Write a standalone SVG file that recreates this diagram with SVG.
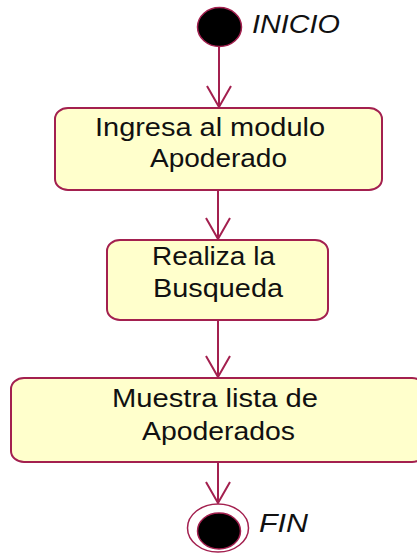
<svg xmlns="http://www.w3.org/2000/svg" width="417" height="556" viewBox="0 0 417 556">
<defs>
<style>
.box{fill:#FFFFCC;stroke:#A3204F;stroke-width:2}
.lbl{font-family:"Liberation Sans",Arial,sans-serif;font-size:25px;fill:#111}
.name{font-family:"Liberation Sans",Arial,sans-serif;font-size:25px;font-style:italic;fill:#111}
.conn{stroke:#A3204F;stroke-width:2;fill:none}
</style>
<marker id="arr" markerUnits="userSpaceOnUse" markerWidth="30" markerHeight="30" refX="0" refY="0" orient="auto" overflow="visible" viewBox="-25 -15 30 30">
<path d="M-21,-12 L0,0 L-21,12" fill="none" stroke="#A3204F" stroke-width="2"/>
</marker>
</defs>
<rect width="417" height="556" fill="#ffffff"/>
<g id="connectors">
<line class="conn" x1="219" y1="46" x2="219" y2="107" marker-end="url(#arr)"/>
<line class="conn" x1="218" y1="190" x2="218" y2="239" marker-end="url(#arr)"/>
<line class="conn" x1="218" y1="320" x2="218" y2="377" marker-end="url(#arr)"/>
<line class="conn" x1="218" y1="462" x2="218" y2="503" marker-end="url(#arr)"/>
</g>
<g id="inicio">
<ellipse cx="219.5" cy="27" rx="22" ry="19.5" fill="#000" stroke="#A3204F" stroke-width="1.5"/>
<text class="name" x="252" y="33" textLength="88" lengthAdjust="spacingAndGlyphs">INICIO</text>
</g>
<g id="ingresa">
<rect class="box" x="55" y="108" width="327" height="82" rx="13" ry="11"/>
<text class="lbl" x="95" y="136" textLength="230" lengthAdjust="spacingAndGlyphs">Ingresa al modulo</text>
<text class="lbl" x="150" y="167" textLength="137" lengthAdjust="spacingAndGlyphs">Apoderado</text>
</g>
<g id="realiza">
<rect class="box" x="107" y="240" width="221" height="80" rx="13" ry="11"/>
<text class="lbl" x="152" y="265" textLength="123" lengthAdjust="spacingAndGlyphs">Realiza la</text>
<text class="lbl" x="153" y="297" textLength="130" lengthAdjust="spacingAndGlyphs">Busqueda</text>
</g>
<g id="muestra">
<rect class="box" x="11" y="378" width="414" height="84" rx="13" ry="11"/>
<text class="lbl" x="112" y="407" textLength="206" lengthAdjust="spacingAndGlyphs">Muestra lista de</text>
<text class="lbl" x="142" y="440" textLength="153" lengthAdjust="spacingAndGlyphs">Apoderados</text>
</g>
<g id="fin">
<ellipse cx="218" cy="528" rx="30.5" ry="24" fill="#fff" stroke="#A3204F" stroke-width="1.5"/>
<ellipse cx="219" cy="531" rx="21.5" ry="18" fill="#000" stroke="#A3204F" stroke-width="1.5"/>
<text class="name" x="259" y="532" textLength="49" lengthAdjust="spacingAndGlyphs">FIN</text>
</g>
</svg>
